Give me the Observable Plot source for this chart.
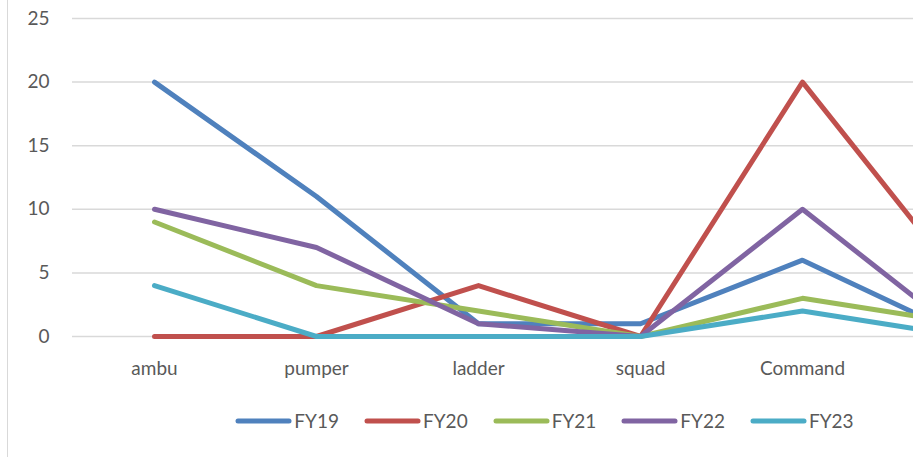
<!DOCTYPE html>
<html>
<head>
<meta charset="utf-8">
<script src="https://cdn.jsdelivr.net/npm/d3@7"></script>
<script src="https://cdn.jsdelivr.net/npm/@observablehq/plot@0.6"></script>
<style>
  html, body { margin: 0; padding: 0; background: #fff; overflow: hidden; width: 913px; height: 457px; }
  #chart { position: absolute; left: 7px; top: -2px; width: 1073px; height: 470px; border-left: 1.5px solid #d9d9d9; font-family: Lato, "Open Sans", sans-serif; }
  #legend { position: absolute; left: 0; top: 411px; width: 1073px; display: flex; justify-content: center; gap: 0; }
  .item { display: flex; align-items: center; margin: 0 12.5px; font-size: 19px; color: #595959; }
  .item svg { margin-right: 2px; }
</style>
</head>
<body>
<div id="chart"></div>
<script>
const categories = ["ambu", "pumper", "ladder", "squad", "Command", "other"];
const visibleLabels = ["ambu", "pumper", "ladder", "squad", "Command"];
const seriesNames = ["FY19", "FY20", "FY21", "FY22", "FY23"];
const fy19 = [20, 11, 1, 1, 6, 0];
const fy20 = [0, 0, 4, 0, 20, 4];
const fy21 = [9, 4, 2, 0, 3, 1];
const fy22 = [10, 7, 1, 0, 10, 0];
const fy23 = [4, 0, 0, 0, 2, 0];
const yTicks = [0, 5, 10, 15, 20, 25];
const colors = ["#4F81BD", "#C0504D", "#9BBB59", "#8064A2", "#4BACC6"];

const allSeries = [fy19, fy20, fy21, fy22, fy23];
const data = [];
seriesNames.forEach((s, i) => {
  categories.forEach((c, j) => data.push({series: s, category: c, value: allSeries[i][j]}));
});

const W = 1073;
const plot = Plot.plot({
  width: W,
  height: 392,
  marginTop: 20,
  marginBottom: 54,
  marginLeft: 64,
  marginRight: 35.5,
  style: {fontFamily: "Lato, 'Open Sans', sans-serif", fontSize: "19px", color: "#595959", background: "transparent"},
  x: {type: "point", domain: categories, padding: 0.5, label: null},
  y: {domain: [0, 25], label: null},
  color: {domain: seriesNames, range: colors},
  marks: [
    Plot.gridY(yTicks, {stroke: "#d9d9d9", strokeOpacity: 1, strokeWidth: 1.5}),
    Plot.axisY(yTicks, {tickSize: 0, tickPadding: 23, fill: "#595959", fontSize: 19, label: null}),
    Plot.axisX(visibleLabels, {tickSize: 0, tickPadding: 25, fill: "#595959", fontSize: 19, label: null}),
    Plot.line(data, {x: "category", y: "value", z: "series", stroke: "series", strokeWidth: 5, strokeLinejoin: "round", strokeLinecap: "round"})
  ]
});
const chart = document.getElementById("chart");
chart.appendChild(plot);

const legend = document.createElement("div");
legend.id = "legend";
seriesNames.forEach((s, i) => {
  const it = document.createElement("div");
  it.className = "item";
  it.innerHTML = `<svg width="57" height="10"><line x1="3" y1="5" x2="54" y2="5" stroke="${colors[i]}" stroke-width="5" stroke-linecap="round"/></svg><span>${s}</span>`;
  legend.appendChild(it);
});
chart.appendChild(legend);
</script>
</body>
</html>
